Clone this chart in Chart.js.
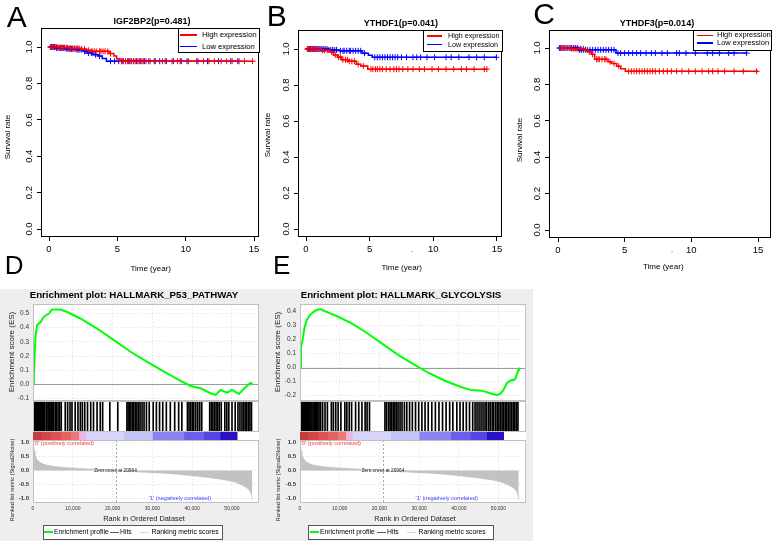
<!DOCTYPE html>
<html>
<head>
<meta charset="utf-8">
<title>Survival curves and GSEA enrichment plots</title>
<script src="https://cdn.jsdelivr.net/npm/chart.js@4.4.1/dist/chart.umd.min.js"></script>
<style>
html,body{margin:0;padding:0;background:#fff;}
body{position:relative;width:777px;height:541px;overflow:hidden;font-family:"Liberation Sans",Arial,Helvetica,sans-serif;color:#000;}
canvas{position:absolute;display:block;}
.t{position:absolute;white-space:nowrap;line-height:1;}
.box{position:absolute;box-sizing:border-box;background:#fff;}
.ln{position:absolute;}
</style>
</head>
<body>
<div style="position:absolute;left:0;top:289px;width:533px;height:252px;background:#eeeeee"></div>
<script>
// ================= DATA =================
const kmXTicks = [0, 5, 10, 15];
const kmYTicks = [0, 0.2, 0.4, 0.6, 0.8, 1.0];
const kmSeriesNames = ['High expression', 'Low expression'];

// Panel A: IGF2BP2
const A_title = 'IGF2BP2(p=0.481)';
const A_high_t = [0, 0.7, 1.5, 2.3, 2.75, 3.0, 4.4, 4.75, 4.95, 5.2, 14.9];
const A_high_s = [1, 0.996, 0.992, 0.988, 0.982, 0.976, 0.964, 0.95, 0.935, 0.922, 0.922];
const A_high_c = [0.15,0.25,0.35,0.5,0.6,0.8,0.9,1.0,1.1,1.25,1.35,1.5,1.6,1.7,1.85,2.0,2.1,2.2,2.4,2.6,2.9,3.1,3.2,3.35,3.5,3.7,3.8,3.95,4.1,4.3,4.5,5.3,5.45,5.6,5.75,5.9,6.05,6.2,6.35,6.5,6.7,6.9,7.1,7.4,7.8,8.3,8.6,9.0,9.4,9.7,10.2,10.8,11.3,11.7,12.1,12.6,13.0,13.4,13.8,14.3,14.9];
const A_low_t = [0, 0.5, 1.2, 2.0, 2.5, 2.8, 3.2, 3.6, 3.9, 4.2, 13.9];
const A_low_s = [1, 0.995, 0.99, 0.985, 0.977, 0.967, 0.958, 0.95, 0.937, 0.922, 0.922];
const A_low_c = [0.1,0.2,0.3,0.4,0.55,0.65,0.75,0.85,0.95,1.05,1.15,1.3,1.4,1.55,1.65,1.75,1.9,2.05,2.2,2.35,2.6,2.7,2.9,3.1,3.4,3.7,4.5,4.8,5.1,5.4,5.6,5.8,6.0,6.2,6.4,6.6,6.8,7.0,7.3,7.7,8.1,8.5,9.1,9.6,10.1,10.9,11.6,12.4,13.3,13.9];

// Panel B: YTHDF1
const B_title = 'YTHDF1(p=0.041)';
const B_high_t = [0, 1.2, 1.9, 2.15, 2.5, 2.8, 3.3, 3.95, 4.3, 4.85, 14.2];
const B_high_s = [1, 0.993, 0.985, 0.967, 0.955, 0.94, 0.932, 0.915, 0.905, 0.888, 0.888];
const B_high_c = [0.1,0.2,0.3,0.45,0.6,0.75,0.9,1.05,1.3,1.45,1.7,2.0,2.3,2.55,2.7,2.9,3.1,3.25,3.4,3.6,3.8,4.1,4.5,5.1,5.25,5.45,5.6,5.8,6.0,6.3,6.6,6.9,7.1,7.3,7.6,8.0,8.4,8.9,9.3,9.9,10.4,11.0,11.6,12.2,12.6,13.2,14.0,14.2];
const B_low_t = [0, 1.8, 2.6, 4.4, 4.9, 5.2, 14.95];
const B_low_s = [1, 0.995, 0.99, 0.977, 0.965, 0.954, 0.954];
const B_low_c = [0.15,0.25,0.35,0.5,0.65,0.8,0.95,1.1,1.2,1.35,1.5,1.65,1.8,1.95,2.1,2.25,2.4,2.7,2.9,3.0,3.2,3.4,3.5,3.7,3.9,4.1,4.3,4.6,5.4,5.6,5.8,6.0,6.2,6.4,6.6,6.8,7.0,7.2,7.5,7.9,8.4,8.7,9.0,9.5,10.1,11.0,11.4,12.0,12.8,13.4,14.0,14.95];

// Panel C: YTHDF3
const C_title = 'YTHDF3(p=0.014)';
const C_high_t = [0, 1.0, 2.0, 2.2, 2.5, 2.75, 3.75, 4.0, 4.4, 4.7, 5.05, 15.0];
const C_high_s = [1, 0.996, 0.99, 0.98, 0.965, 0.938, 0.925, 0.915, 0.9, 0.886, 0.872, 0.872];
const C_high_c = [0.2,0.35,0.5,0.7,0.9,1.05,1.2,1.35,1.5,1.7,1.9,2.35,2.6,2.9,3.0,3.1,3.3,3.5,3.6,3.9,4.2,4.55,5.3,5.5,5.7,5.9,6.1,6.3,6.5,6.7,6.9,7.1,7.3,7.6,7.9,8.2,8.5,8.9,9.3,9.8,10.3,10.8,11.3,11.6,12.0,12.5,13.2,13.9,14.9];
const C_low_t = [0, 1.5, 4.35, 14.15];
const C_low_s = [1, 0.99, 0.972, 0.972];
const C_low_c = [0.1,0.2,0.3,0.45,0.6,0.75,0.9,1.0,1.15,1.3,1.45,1.6,1.75,1.9,2.05,2.2,2.4,2.6,2.8,3.0,3.2,3.4,3.6,3.8,4.0,4.2,4.5,4.7,5.0,5.3,5.6,5.9,6.2,6.6,7.0,7.3,7.8,8.2,8.9,9.1,9.6,10.3,11.2,11.6,12.1,12.8,13.2,14.15];

// GSEA common
const gseaXTicks = [0, 10000, 20000, 30000, 40000, 50000];
const rankTicks = [-1, -0.5, 0, 0.5, 1];
const rankX = [0, 150, 300, 500, 800, 1200, 1800, 2600, 3600, 5000, 7000, 10000, 13000, 16500, 19000, 20964, 24500, 29000, 33000, 37000, 41300, 45000, 48000, 50000, 51300, 52600, 53800, 54400, 54800, 55100];
const rankMetric = [1.0, 0.86, 0.7, 0.56, 0.45, 0.36, 0.29, 0.23, 0.19, 0.155, 0.12, 0.09, 0.065, 0.04, 0.02, 0, -0.04, -0.07, -0.1, -0.14, -0.21, -0.27, -0.33, -0.39, -0.45, -0.53, -0.63, -0.72, -0.84, -1.05];
const zeroCross = 20964;
const bandEdges = [0, 2000, 4500, 7000, 9500, 11500, 13200, 22800, 30000, 37900, 42900, 47000, 51300, 55150];
const bandColors = ['#c43c3c','#d44646','#e05252','#e86262','#ee7878','#f2b4e2','#d6d4fa','#c4c4f6','#8a84f2','#6a5eec','#5446e4','#2a10c4'];

// Panel D: HALLMARK_P53_PATHWAY
const D_title = 'Enrichment plot: HALLMARK_P53_PATHWAY';
const D_esTicks = [-0.1, 0, 0.1, 0.2, 0.3, 0.4, 0.5];
const D_esX = [0, 200, 380, 630, 1050, 1900, 2700, 4000, 4800, 6900, 8600, 11900, 16100, 20300, 24500, 28700, 32900, 37100, 39600, 42100, 44600, 45900, 47100, 48800, 50000, 51700, 53400, 54650, 55150];
const D_esY = [0, 0.06, 0.19, 0.335, 0.42, 0.44, 0.476, 0.50, 0.528, 0.528, 0.511, 0.465, 0.394, 0.312, 0.23, 0.159, 0.089, 0.025, -0.012, -0.028, -0.063, -0.075, -0.04, -0.059, -0.04, -0.068, -0.021, 0.011, 0.0];
const D_hits = [150,400,600,900,1100,1400,1600,1900,2100,2400,2700,2900,3300,3500,3800,4100,4300,4700,5000,5200,5600,5900,6300,6700,7100,
  8100,8700,9300,9800,10600,11300,11900,12400,13000,13700,14500,15200,16100,16900,17500,19300,21300,
  23600,23900,24300,24600,25000,25300,25700,26100,26500,26900,27400,27900,28500,29200,
  30200,31000,31800,32600,33500,34500,35600,36600,37400,
  38800,39200,39600,40000,40400,40900,41400,41900,42400,
  44400,44800,45200,45600,46000,46400,46800,47300,48200,48700,49200,50000,50800,
  51500,52000,52500,52900,53300,53700,54100,54500,54900];

// Panel E: HALLMARK_GLYCOLYSIS
const E_title = 'Enrichment plot: HALLMARK_GLYCOLYSIS';
const E_esTicks = [-0.2, -0.1, 0, 0.1, 0.2, 0.3, 0.4];
const E_esX = [0, 250, 590, 1090, 1680, 2500, 3780, 5040, 7130, 9650, 13000, 16400, 20580, 24800, 29000, 32300, 36500, 40700, 43200, 45800, 47900, 49500, 50400, 51200, 52100, 52900, 54200, 55000, 55160];
const E_esY = [0, 0.15, 0.186, 0.28, 0.34, 0.376, 0.407, 0.419, 0.393, 0.364, 0.317, 0.257, 0.174, 0.09, 0.019, -0.036, -0.093, -0.14, -0.16, -0.164, -0.183, -0.195, -0.188, -0.16, -0.111, -0.093, -0.083, -0.016, 0.0];
const E_hits = [100,350,600,850,1100,1400,1650,1900,2200,2450,2750,3000,3300,3600,3900,4200,4500,4800,
  5200,5700,6300,6900,7900,8400,9000,9600,10300,11300,11800,12400,13000,14000,14800,15600,16400,16900,17500,
  21400,21800,22300,22700,23100,23500,23900,24300,24700,25200,25700,26300,26900,27600,28300,29100,29900,30700,31500,32300,33200,34100,35000,35900,36800,37700,38500,
  39500,40300,41100,41900,42700,43500,44100,44600,45100,45600,46100,46600,47000,47500,47900,48400,48800,49300,49700,50100,50500,50900,51300,51700,52100,52500,52900,53300,53700,54100,54500,54900];

// ================= HELPERS =================
const RED = '#ff0000', BLUE = '#0000ff';
Chart.defaults.font.family = '"Liberation Sans", Arial, Helvetica, sans-serif';
Chart.defaults.animation = false;
Chart.defaults.events = [];
Chart.defaults.plugins.legend.display = false;
Chart.defaults.plugins.tooltip.enabled = false;

function mkCanvas(l, t, w, h) {
  const c = document.createElement('canvas');
  c.width = w; c.height = h;
  c.style.left = l + 'px'; c.style.top = t + 'px';
  c.style.width = w + 'px'; c.style.height = h + 'px';
  document.body.appendChild(c);
  return c;
}
function txt(s, x, y, size, o) {
  o = o || {};
  const d = document.createElement('div');
  d.className = 't';
  d.textContent = s;
  d.style.fontSize = size + 'px';
  if (o.bold) d.style.fontWeight = 'bold';
  if (o.color) d.style.color = o.color;
  d.style.left = x + 'px';
  d.style.top = y + 'px';
  const ax = o.anchor === 'left' ? '0' : '-50%';
  d.style.transform = 'translate(' + ax + ',-50%)' + (o.rot ? ' rotate(' + o.rot + 'deg)' : '');
  document.body.appendChild(d);
}
function hline(x1, x2, y, color, w) {
  const d = document.createElement('div');
  d.className = 'ln';
  d.style.left = x1 + 'px'; d.style.top = (y - w / 2) + 'px';
  d.style.width = (x2 - x1) + 'px'; d.style.height = w + 'px';
  d.style.background = color;
  document.body.appendChild(d);
}
function boxDiv(l, t, w, h, border) {
  const d = document.createElement('div');
  d.className = 'box';
  d.style.left = l + 'px'; d.style.top = t + 'px';
  d.style.width = w + 'px'; d.style.height = h + 'px';
  d.style.border = border;
  document.body.appendChild(d);
}
function stepPts(ts, ss) { return ts.map((t, i) => ({x: t, y: ss[i]})); }
function survAt(ts, ss, t) { let v = ss[0]; for (let i = 0; i < ts.length; i++) { if (ts[i] <= t) v = ss[i]; } return v; }
function censPts(ts, ss, cs) { return cs.map(c => ({x: c, y: survAt(ts, ss, c)})); }
function fixedTicks(arr) { return s => { s.ticks = arr.map(v => ({value: v})); }; }

const decor = {
  id: 'decor',
  beforeDraw(chart, args, o) {
    if (o && o.bg) {
      const a = chart.chartArea, ctx = chart.ctx;
      ctx.save(); ctx.fillStyle = o.bg;
      ctx.fillRect(a.left, a.top, a.right - a.left, a.bottom - a.top);
      ctx.restore();
    }
  },
  beforeDatasetsDraw(chart, args, o) {
    const ctx = chart.ctx, a = chart.chartArea;
    if (o && o.zeroLine) {
      const y = Math.round(chart.scales.y.getPixelForValue(0)) + 0.5;
      ctx.save(); ctx.strokeStyle = o.zeroLine; ctx.lineWidth = 1;
      ctx.beginPath(); ctx.moveTo(a.left, y); ctx.lineTo(a.right, y); ctx.stroke(); ctx.restore();
    }
    if (o && o.vDash !== undefined) {
      const x = Math.round(chart.scales.x.getPixelForValue(o.vDash)) + 0.5;
      ctx.save(); ctx.strokeStyle = '#a8a8a8'; ctx.lineWidth = 1; ctx.setLineDash([2, 2]);
      ctx.beginPath(); ctx.moveTo(x, a.top); ctx.lineTo(x, a.bottom); ctx.stroke(); ctx.restore();
    }
  },
  afterDraw(chart, args, o) {
    if (o && o.frame) {
      const a = chart.chartArea, ctx = chart.ctx;
      ctx.save(); ctx.strokeStyle = o.frame; ctx.lineWidth = 1;
      ctx.strokeRect(Math.round(a.left) + 0.5, Math.round(a.top) + 0.5, Math.round(a.right - a.left) - 1, Math.round(a.bottom - a.top) - 1);
      ctx.restore();
    }
  }
};

// ================= KM PANELS =================
function kmChart(g, hi, lo) {
  const c = mkCanvas(g.cl, g.ct, g.cw, g.ch);
  const pxX = (g.x15 - g.x0) / 15;
  const xmin = (g.L - g.x0) / pxX, xmax = 15 + (g.R - g.x15) / pxX;
  const pxY = g.y0 - g.y1;
  const ymin = -(g.B - g.y0) / pxY, ymax = 1 + (g.y1 - g.T) / pxY;
  const tickFont = {size: 9.5};
  new Chart(c, {
    type: 'line',
    data: {datasets: [
      {label: kmSeriesNames[0], data: stepPts(hi.t, hi.s), borderColor: RED, borderWidth: 1.5, stepped: true, pointRadius: 0, fill: false},
      {label: kmSeriesNames[1], data: stepPts(lo.t, lo.s), borderColor: BLUE, borderWidth: 1.5, stepped: true, pointRadius: 0, fill: false},
      {type: 'scatter', label: 'High censored', data: censPts(hi.t, hi.s, hi.c), pointStyle: 'cross', pointRadius: 3, pointBorderWidth: 1, pointBorderColor: RED, pointBackgroundColor: RED},
      {type: 'scatter', label: 'Low censored', data: censPts(lo.t, lo.s, lo.c), pointStyle: 'cross', pointRadius: 3, pointBorderWidth: 1, pointBorderColor: BLUE, pointBackgroundColor: BLUE}
    ]},
    options: {
      responsive: false, devicePixelRatio: 1,
      layout: {padding: {left: 0, top: g.T - g.ct, right: g.cl + g.cw - g.R, bottom: 0}},
      scales: {
        x: {type: 'linear', min: xmin, max: xmax, afterBuildTicks: fixedTicks(kmXTicks),
            afterFit: s => { s.height = g.ct + g.ch - g.B; },
            ticks: {font: tickFont, color: '#000', padding: 3, maxRotation: 0, autoSkip: false, callback: v => String(v)},
            grid: {drawOnChartArea: false, drawTicks: true, tickLength: 4, tickColor: '#000', tickWidth: 1},
            border: {display: false}},
        y: {type: 'linear', min: ymin, max: ymax, afterBuildTicks: fixedTicks(kmYTicks),
            afterFit: s => { s.width = g.L - g.cl; },
            ticks: {font: tickFont, color: '#000', padding: 1.5, minRotation: 90, maxRotation: 90, crossAlign: 'center', autoSkip: false, callback: v => v.toFixed(1)},
            grid: {drawOnChartArea: false, drawTicks: true, tickLength: 4, tickColor: '#000', tickWidth: 1},
            border: {display: false}}
      },
      plugins: {decor: {frame: '#000'}}
    },
    plugins: [decor]
  });
}

kmChart({cl: 0, ct: 0, cw: 266, ch: 262, L: 41, T: 28, R: 259, B: 237, x0: 49, x15: 254, y1: 47, y0: 229},
        {t: A_high_t, s: A_high_s, c: A_high_c}, {t: A_low_t, s: A_low_s, c: A_low_c});
kmChart({cl: 265, ct: 0, cw: 245, ch: 262, L: 298, T: 30, R: 502, B: 237, x0: 306, x15: 497, y1: 49, y0: 229},
        {t: B_high_t, s: B_high_s, c: B_high_c}, {t: B_low_t, s: B_low_s, c: B_low_c});
kmChart({cl: 515, ct: 0, cw: 262, ch: 262, L: 549, T: 30, R: 771, B: 238, x0: 558, x15: 758, y1: 48, y0: 230},
        {t: C_high_t, s: C_high_s, c: C_high_c}, {t: C_low_t, s: C_low_s, c: C_low_c});

// ================= GSEA PANELS =================
const ES_TOP = 304, ES_BOT = 401, HIT_BOT = 432, BAND_BOT = 440, RANK_BOT = 503;
function gseaPanel(p) {
  const W = p.R - p.L;
  const xmax = W / p.px10k * 10000;
  const gridCol = '#e0e0e0';
  // ES plot
  const c1 = mkCanvas(p.cl, ES_TOP - 12, p.R + 6 - p.cl, ES_BOT - ES_TOP + 24);
  const esMax = (p.es0 - ES_TOP) / p.esPx, esMin = -(ES_BOT - p.es0) / p.esPx;
  new Chart(c1, {
    type: 'line',
    data: {datasets: [{label: 'Enrichment profile', data: p.esX.map((x, i) => ({x: x, y: p.esY[i]})), borderColor: '#00ff00', borderWidth: 2, pointRadius: 0, tension: 0, fill: false}]},
    options: {
      responsive: false, devicePixelRatio: 1,
      layout: {padding: {left: 0, top: 12, right: 6, bottom: 12}},
      scales: {
        x: {type: 'linear', min: 0, max: xmax, afterBuildTicks: fixedTicks(gseaXTicks), afterFit: s => { s.height = 0; },
            ticks: {display: false}, grid: {color: gridCol, drawTicks: false}, border: {display: false, dash: [1, 2]}},
        y: {type: 'linear', min: esMin, max: esMax, afterBuildTicks: fixedTicks(p.esTicks), afterFit: s => { s.width = p.L - p.cl; },
            ticks: {font: {size: 6.5}, color: '#333', padding: 4, autoSkip: false, callback: v => v.toFixed(1)},
            grid: {color: gridCol, drawTicks: false}, border: {display: false, dash: [1, 2]}}
      },
      plugins: {decor: {bg: '#fff', zeroLine: '#9a9a9a', frame: '#c0c0c0'}}
    },
    plugins: [decor]
  });
  // Hits (thin bars on a linear rank axis)
  const c2 = mkCanvas(p.L, ES_BOT, W, HIT_BOT - ES_BOT);
  new Chart(c2, {
    type: 'bar',
    data: {datasets: [{label: 'Hits', data: p.hits.map(h => ({x: h, y: 1})), backgroundColor: '#000', borderWidth: 0, barThickness: 1}]},
    options: {
      responsive: false, devicePixelRatio: 1, layout: {padding: 0},
      scales: {x: {type: 'linear', min: 0, max: xmax, display: false, offset: false}, y: {type: 'linear', min: 0, max: 1, display: false}},
      plugins: {decor: {bg: '#fff', frame: '#c0c0c0'}}
    },
    plugins: [decor]
  });
  // Colour band
  const c3 = mkCanvas(p.L, HIT_BOT, W, BAND_BOT - HIT_BOT);
  const bandSets = bandColors.map((col, i) => ({label: 'band' + i, data: [[bandEdges[i], bandEdges[i + 1]]], backgroundColor: col, borderWidth: 0, grouped: false, barPercentage: 1, categoryPercentage: 1}));
  new Chart(c3, {
    type: 'bar',
    data: {labels: ['rank'], datasets: bandSets},
    options: {
      indexAxis: 'y', responsive: false, devicePixelRatio: 1, layout: {padding: 0},
      scales: {x: {type: 'linear', min: 0, max: xmax, display: false}, y: {display: false}},
      plugins: {decor: {bg: '#fff'}}
    },
    plugins: [decor]
  });
  // Ranked list metric
  const rTop = BAND_BOT - 12, rH = 84;
  const c4 = mkCanvas(p.cl, rTop, p.R + 6 - p.cl, rH);
  const rMax = (p.rank0 - BAND_BOT) / p.rankPx, rMin = -(RANK_BOT - p.rank0) / p.rankPx;
  new Chart(c4, {
    type: 'line',
    data: {datasets: [{label: 'Ranking metric scores', data: rankX.map((x, i) => ({x: x, y: rankMetric[i]})), borderColor: '#b8b8b8', borderWidth: 0.5, backgroundColor: '#c2c2c2', fill: 'origin', pointRadius: 0, tension: 0}]},
    options: {
      responsive: false, devicePixelRatio: 1,
      layout: {padding: {left: 0, top: 12, right: 6, bottom: 0}},
      scales: {
        x: {type: 'linear', min: 0, max: xmax, afterBuildTicks: fixedTicks(gseaXTicks), afterFit: s => { s.height = rTop + rH - RANK_BOT; },
            ticks: {font: {size: 5}, color: '#333', padding: 3, maxRotation: 0, autoSkip: false, callback: v => v.toLocaleString('en-US')},
            grid: {color: gridCol, drawTicks: false}, border: {display: false, dash: [1, 2]}},
        y: {type: 'linear', min: rMin, max: rMax, afterBuildTicks: fixedTicks(rankTicks), afterFit: s => { s.width = p.L - p.cl; },
            ticks: {font: {size: 6, weight: 'bold'}, color: '#333', padding: 4, autoSkip: false, callback: v => v.toFixed(1)},
            grid: {color: gridCol, drawTicks: false}, border: {display: false, dash: [1, 2]}}
      },
      plugins: {decor: {bg: '#fff', frame: '#c0c0c0', vDash: zeroCross}}
    },
    plugins: [decor]
  });

  // texts
  txt(p.title, p.titleX, 295, 9.7, {bold: true});
  txt('Enrichment score (ES)', p.yLabX, 352, 8, {rot: -90, color: '#222'});
  txt('Ranked list metric (Signal2Noise)', p.yLabX + 1, 480, 5.6, {rot: -90, color: '#222'});
  txt('Rank in Ordered Dataset', p.xLabX, 519, 7.4, {color: '#222'});
  txt("'0' (positively correlated)", p.L + 1, 443.5, 5.6, {anchor: 'left', color: '#ff4040'});
  txt('Zero cross at ' + zeroCross, p.zcX, 471.3, 4.8, {color: '#222'});
  txt("'1' (negatively correlated)", p.negX, 499.3, 5.6, {color: '#4040ff'});
  // legend
  const lg = p.leg;
  boxDiv(lg.l, 525, lg.w, 14.5, '1px solid #555');
  hline(lg.g1, lg.g1 + 8.5, 532, '#00ff00', 1.6);
  txt('Enrichment profile', lg.g1 + 10, 532, 6.8, {anchor: 'left'});
  hline(lg.h1, lg.h1 + 8.5, 532, '#555', 1);
  txt('Hits', lg.h1 + 10, 532, 6.8, {anchor: 'left'});
  hline(lg.r1, lg.r1 + 8.5, 532, '#d8d8d8', 1);
  txt('Ranking metric scores', lg.r1 + 11.5, 532, 6.8, {anchor: 'left'});
}

gseaPanel({cl: 0, L: 33, R: 259, px10k: 39.8, es0: 384.3, esPx: 141.5, esTicks: D_esTicks, esX: D_esX, esY: D_esY, hits: D_hits,
  rank0: 470.5, rankPx: 27.8, title: D_title, titleX: 134, yLabX: 11.5, xLabX: 144, zcX: 115.5, negX: 180,
  leg: {l: 43, w: 180, g1: 44, h1: 110, r1: 140}});
gseaPanel({cl: 268, L: 300, R: 526, px10k: 39.7, es0: 367.7, esPx: 140, esTicks: E_esTicks, esX: E_esX, esY: E_esY, hits: E_hits,
  rank0: 470.5, rankPx: 27.8, title: E_title, titleX: 401, yLabX: 277.5, xLabX: 415, zcX: 383, negX: 446.7,
  leg: {l: 308, w: 185.5, g1: 310, h1: 377, r1: 407}});

// ================= KM TEXTS & LEGENDS =================
txt('A', 16.7, 16.7, 30);
txt('B', 276.7, 15.8, 30);
txt('C', 544.2, 14.2, 30);
txt('D', 14.2, 265, 26);
txt('E', 281.7, 265, 26);

txt(A_title, 152, 21, 9, {bold: true});
txt(B_title, 400.8, 23.3, 9, {bold: true});
txt(C_title, 657, 22.7, 9, {bold: true});
txt('Survival rate', 8.3, 136.7, 8, {rot: -90});
txt('Survival rate', 268.3, 135, 8, {rot: -90});
txt('Survival rate', 520, 140, 8, {rot: -90});
txt('Time (year)', 150.7, 269.3, 8);
txt('Time (year)', 401.7, 268.3, 8);
txt('Time (year)', 663.3, 266.7, 8);
txt('-', 412, 251, 8, {color: '#888'});
txt('-', 672, 251, 8, {color: '#888'});

function kmLegend(g) {
  boxDiv(g.l, g.t, g.w, g.h, '1px solid #000');
  kmSeriesNames.forEach((name, i) => {
    hline(g.lx1, g.lx2, g.rows[i], i === 0 ? RED : BLUE, 1.5);
    txt(name, g.tx, g.rows[i], g.size, {anchor: 'left'});
  });
}
kmLegend({l: 178, t: 28, w: 81.5, h: 25, lx1: 180, lx2: 197, tx: 202, rows: [35, 46.7], size: 7.6});
kmLegend({l: 423, t: 30, w: 79.5, h: 22, lx1: 427, lx2: 442, tx: 448, rows: [36, 44.5], size: 7.2});
kmLegend({l: 693, t: 30, w: 78.5, h: 20.5, lx1: 697, lx2: 713, tx: 717, rows: [35.3, 43], size: 7.5});
</script>
</body>
</html>
